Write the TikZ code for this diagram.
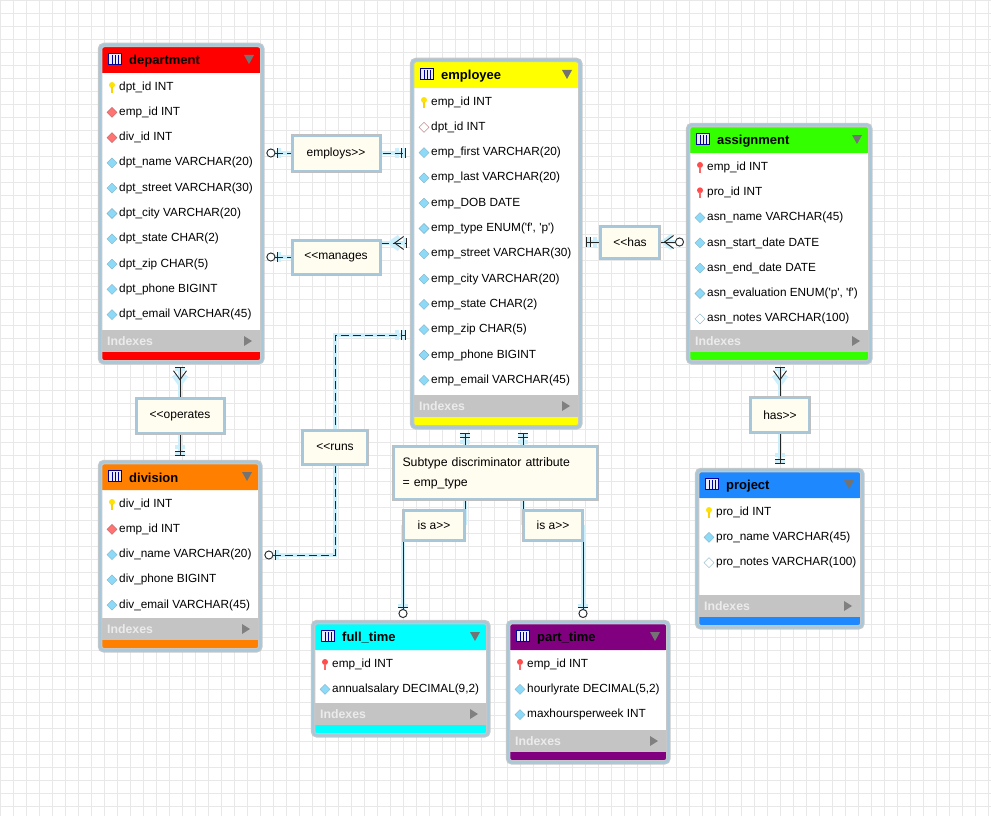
\documentclass[tikz,border=0pt]{standalone}
\usepackage{fontspec}
\setmainfont{Liberation Sans}
\usetikzlibrary{arrows.meta,backgrounds}

\definecolor{framecol}{HTML}{A6C8DA}
\definecolor{notefill}{HTML}{FFFDEF}
\definecolor{idxgrey}{HTML}{C4C4C4}
\definecolor{hdrred}{HTML}{FF0000}
\definecolor{hdryellow}{HTML}{FFFF00}
\definecolor{hdrgreen}{HTML}{33FF00}
\definecolor{hdrblue}{HTML}{1E88FF}
\definecolor{hdrorange}{HTML}{FF8000}
\definecolor{hdrcyan}{HTML}{00FFFF}
\definecolor{hdrpurple}{HTML}{800080}

\tikzset{
  x=1pt, y=-1pt,
  tableframe/.style={draw=framecol, line width=2.2pt, rounded corners=4pt,
    preaction={draw=black!22, line width=4.5pt}},
  rowtext/.style={anchor=west, inner sep=0pt, font=\fontsize{11.8}{14}\selectfont},
  titletext/.style={anchor=west, inner sep=0pt, font=\fontsize{13}{15}\selectfont\bfseries},
  relbox/.style={draw=framecol, line width=2pt, fill=notefill, inner sep=0pt,
    font=\fontsize{12}{14}\selectfont, preaction={draw=black!25, line width=4pt}},
  conn/.style={draw=black!85, line width=0.9pt, preaction={draw=cyan!20, line width=4pt}},
  dashconn/.style={conn, dash pattern=on 8pt off 4pt},
  one/.tip={Bar[width=10pt,sep=3pt] Bar[width=10pt,sep=3pt]},
  zeroone/.tip={Bar[width=10pt,sep=1.5pt] Circle[open,length=9pt,width=9pt,fill=white,sep=1pt]},
  many/.tip={Straight Barb[reversed,length=9pt,width=13pt,sep=2pt] Bar[width=10pt,sep=2pt]},
  zeromany/.tip={Straight Barb[reversed,length=9pt,width=13pt,sep=1pt] Circle[open,length=9pt,width=9pt,fill=white,sep=1pt]},
  pics/ic-c/.style={code={\draw[cyan!60!black!60, fill=cyan!45] (0,-5)--(5,0)--(0,5)--(-5,0)--cycle;}},
  pics/ic-n/.style={code={\draw[cyan!60!black!60, fill=white] (0,-5)--(5,0)--(0,5)--(-5,0)--cycle;}},
  pics/ic-f/.style={code={\draw[red!50!black!60, fill=red!55!white] (0,-5)--(5,0)--(0,5)--(-5,0)--cycle;}},
  pics/ic-nf/.style={code={\draw[red!50!black!60, fill=white] (0,-5)--(5,0)--(0,5)--(-5,0)--cycle;}},
  pics/ic-k/.style={code={\fill[yellow!85!orange] (0,-2) circle (3); \fill[yellow!70!orange] (-1.3,0) rectangle (1.3,6);}},
  pics/ic-rk/.style={code={\fill[red!70] (0,-2) circle (3); \fill[red!60] (-1.3,0) rectangle (1.3,6);}},
}

% table: name, x, y, width, colour, title, y of the Indexes bar, rows
\newcommand{\ertable}[8]{%
  \pgfmathsetmacro\xr{#2+#4}
  \pgfmathsetmacro\yb{#7+32}
  \pgfmathsetmacro\hh{\yb-#3}
  \node[fill=white, rounded corners=4pt, minimum width=#4pt, minimum height=\hh pt,
    anchor=north west, inner sep=0pt] (#1) at (#2,#3) {};
  \fill[#5, rounded corners=3pt] (#2,#3) rectangle (\xr,{#3+28});
  \fill[#5] (#2,{#3+14}) rectangle (\xr,{#3+28});
  \draw[fill=blue!8, draw=blue!60!black] ({#2+8},{#3+8}) rectangle ({#2+21},{#3+19});
  \foreach \g in {12,15,18} \draw[blue!60!black, very thin] ({#2+\g},{#3+10}) -- ({#2+\g},{#3+19});
  \node[titletext] at ({#2+29},{#3+16}) {#6};
  \fill[black!55] ({\xr-18},{#3+10}) -- ({\xr-8},{#3+10}) -- ({\xr-13},{#3+19}) -- cycle;
  \foreach [count=\i] \ic/\txt in {#8}{%
    \pgfmathsetmacro\ry{#3+42+(\i-1)*25.3}
    \pic at ({#2+12},\ry) {ic-\ic};
    \node[rowtext] at ({#2+19},\ry) {\txt};
  }
  \fill[idxgrey] (#2,#7) rectangle (\xr,{#7+22});
  \node[titletext, text=white!92!black, font=\fontsize{12.3}{14}\selectfont\bfseries] at ({#2+7},{#7+11}) {Indexes};
  \fill[black!50] ({\xr-18},{#7+6}) -- ({\xr-10},{#7+11}) -- ({\xr-18},{#7+16}) -- cycle;
  \fill[#5, rounded corners=3pt] (#2,{#7+22}) rectangle (\xr,\yb);
  \fill[#5] (#2,{#7+22}) rectangle (\xr,{#7+27});
  \draw[tableframe] (#1.north west) rectangle (#1.south east);
}

\begin{document}
\begin{tikzpicture}

	\useasboundingbox (0,0) rectangle (991,816);

	% tables
	\ertable{dept}{100}{45}{162}{hdrred}{department}{330}{k/{dpt\_id INT}, f/{emp\_id INT}, f/{div\_id INT}, c/{dpt\_name VARCHAR(20)}, c/{dpt\_street VARCHAR(30)}, c/{dpt\_city VARCHAR(20)}, c/{dpt\_state CHAR(2)}, c/{dpt\_zip CHAR(5)}, c/{dpt\_phone BIGINT}, c/{dpt\_email VARCHAR(45)}}
	\ertable{emp}{412}{60}{168}{hdryellow}{employee}{395}{k/{emp\_id INT}, nf/{dpt\_id INT}, c/{emp\_first VARCHAR(20)}, c/{emp\_last VARCHAR(20)}, c/{emp\_DOB DATE}, c/{emp\_type ENUM(\textquotesingle f\textquotesingle, \textquotesingle p\textquotesingle)}, c/{emp\_street VARCHAR(30)}, c/{emp\_city VARCHAR(20)}, c/{emp\_state CHAR(2)}, c/{emp\_zip CHAR(5)}, c/{emp\_phone BIGINT}, c/{emp\_email VARCHAR(45)}}
	\ertable{asg}{688}{125}{182}{hdrgreen}{assignment}{330}{rk/{emp\_id INT}, rk/{pro\_id INT}, c/{asn\_name VARCHAR(45)}, c/{asn\_start\_date DATE}, c/{asn\_end\_date DATE}, c/{asn\_evaluation ENUM(\textquotesingle p\textquotesingle, \textquotesingle f\textquotesingle)}, n/{asn\_notes VARCHAR(100)}}
	\ertable{prj}{697}{470}{165}{hdrblue}{project}{595}{k/{pro\_id INT}, c/{pro\_name VARCHAR(45)}, n/{pro\_notes VARCHAR(100)}}
	\ertable{div}{100}{462}{160}{hdrorange}{division}{618}{k/{div\_id INT}, f/{emp\_id INT}, c/{div\_name VARCHAR(20)}, c/{div\_phone BIGINT}, c/{div\_email VARCHAR(45)}}
	\ertable{ft}{313}{622}{175}{hdrcyan}{full\_time}{703}{rk/{emp\_id INT}, c/{annualsalary DECIMAL(9,2)}}
	\ertable{pt}{508}{622}{160}{hdrpurple}{part\_time}{730}{rk/{emp\_id INT}, c/{hourlyrate DECIMAL(5,2)}, c/{maxhoursperweek INT}}

	% relationship labels
	\node[relbox, minimum width=87pt, minimum height=35pt] (employs) at (336,153) {employs>{}>};
	\node[relbox, minimum width=87pt, minimum height=33pt] (manages) at (336,257) {<{}<manages};
	\node[relbox, minimum width=58pt, minimum height=31pt] (hasasg) at (630,242) {<{}<has};
	\node[relbox, minimum width=87pt, minimum height=34pt] (operates) at (180,416) {<{}<operates};
	\node[relbox, minimum width=64pt, minimum height=33pt] (runs) at (335,447) {<{}<runs};
	\node[relbox, minimum width=58pt, minimum height=34pt] (hasprj) at (780,415) {has>{}>};
	\node[relbox, minimum width=60pt, minimum height=29pt] (isaft) at (434,525) {is a>{}>};
	\node[relbox, minimum width=58pt, minimum height=29pt] (isapt) at (553,525) {is a>{}>};
	\node[relbox, minimum width=203pt, minimum height=52pt, align=left, text width=185pt,
		font=\fontsize{12.3}{20}\selectfont] (note) at (495,473) {Subtype discriminator attribute\\= emp\_type};

	\coordinate (rn1) at (335,555);
	\coordinate (rn2) at (335,335);

	% connectors (ends kept just outside the table frames)
	\begin{scope}[on background layer]
		\draw[black!9, very thin, step=13pt] (0,0) grid (991,816);
		\draw[dashconn, {zeroone}-{one}]
			([xshift=3pt]dept.east|-employs) -- ([xshift=-3pt]emp.west|-employs);
		\draw[dashconn, {zeroone}-]
			([xshift=3pt]dept.east|-manages) -- (manages.west);
		\draw[dashconn, -{many}]
			([yshift=14pt]manages.east) -- ([yshift=14pt, xshift=-3pt]manages.east -| emp.west);
		\draw[conn, {one}-{zeromany}]
			([xshift=3pt]emp.east|-hasasg) -- ([xshift=-3pt]asg.west|-hasasg);
		\draw[conn, {many}-{one}]
			([yshift=-3pt]dept.south-|operates) -- ([yshift=3pt]div.north-|operates);
		\draw[dashconn, {zeroone}-{one}]
			([xshift=3pt]div.east|-rn1) -- (rn1) -- (rn2) -- ([xshift=-3pt]emp.west|-rn2);
		\draw[conn, {many}-{one}]
			([yshift=-3pt]asg.south-|hasprj) -- ([yshift=3pt]prj.north-|hasprj);
		\draw[conn, {one}-] ([yshift=-3pt]emp.south-|isaft.east) -- (note.north-|isaft.east);
		\draw[conn] (note.south-|isaft.east) -- (isaft.east);
		\draw[conn, -{zeroone}] (isaft.west) -- ([yshift=3pt]isaft.west|-ft.north);
		\draw[conn, {one}-] ([yshift=-3pt]emp.south-|isapt.west) -- (note.north-|isapt.west);
		\draw[conn] (note.south-|isapt.west) -- (isapt.west);
		\draw[conn, -{zeroone}] (isapt.east) -- ([yshift=3pt]isapt.east|-pt.north);
	\end{scope}

\end{tikzpicture}
\end{document}
